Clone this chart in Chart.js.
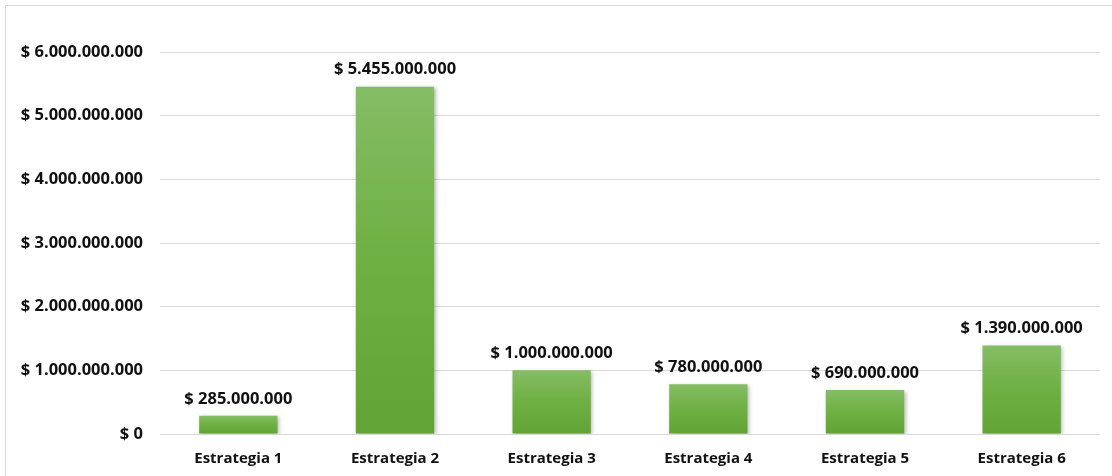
<!DOCTYPE html>
<html>
<head>
  <title>Estrategias</title>
  <script src="https://cdn.jsdelivr.net/npm/chart.js"></script>
  <style>
    body { margin: 0; background: #fff; overflow: hidden; }
    .frame { position: absolute; left: 5px; top: 5px; width: 1200px; height: 600px; border: 1px solid #d9d9d9; }
    #chart { position: absolute; left: 0; top: 0; }
  </style>
</head>
<body>
  <div class="frame"></div>
  <canvas id="chart" width="1112" height="476"></canvas>
  <script>
    const categories = ['Estrategia 1', 'Estrategia 2', 'Estrategia 3', 'Estrategia 4', 'Estrategia 5', 'Estrategia 6'];
    const costs = [285000000, 5455000000, 1000000000, 780000000, 690000000, 1390000000];

    const FONT = "'Open Sans', Lato, sans-serif";
    const SIZE = 16.5;
    const TEXT = '#111';

    function money(v) {
      return '$ ' + String(Math.round(v)).replace(/\B(?=(\d{3})+(?!\d))/g, '.');
    }

    // each bar gets its own light-to-dark gradient
    function barFill(ctx) {
      const chart = ctx.chart;
      const y = chart.scales.y;
      if (!y || !chart.chartArea || ctx.parsed === undefined) return '#70b047';
      const top = y.getPixelForValue(ctx.parsed.y);
      const bottom = y.getPixelForValue(0);
      if (!isFinite(top) || !isFinite(bottom) || top === bottom) return '#70b047';
      const g = chart.ctx.createLinearGradient(0, top, 0, bottom);
      g.addColorStop(0, '#85bd65');
      g.addColorStop(0.5, '#6eb042');
      g.addColorStop(1, '#62a335');
      return g;
    }

    const barShadow = {
      id: 'barShadow',
      beforeDatasetsDraw(chart) {
        const c = chart.ctx;
        c.save();
        c.shadowColor = 'rgba(0,0,0,0.28)';
        c.shadowBlur = 4;
        c.shadowOffsetX = 1.5;
        c.shadowOffsetY = 1.5;
      },
      afterDatasetsDraw(chart) {
        chart.ctx.restore();
      }
    };

    const valueLabels = {
      id: 'valueLabels',
      afterDatasetsDraw(chart) {
        const c = chart.ctx;
        const meta = chart.getDatasetMeta(0);
        c.save();
        c.font = 'bold ' + SIZE + 'px ' + FONT;
        c.fillStyle = TEXT;
        c.textAlign = 'center';
        c.textBaseline = 'middle';
        meta.data.forEach((bar, i) => {
          c.fillText(money(costs[i]), bar.x, bar.y - 17);
        });
        c.restore();
      }
    };

    new Chart(document.getElementById('chart'), {
      type: 'bar',
      data: {
        labels: categories,
        datasets: [{
          data: costs,
          backgroundColor: barFill,
          borderWidth: 0,
          barPercentage: 0.5,
          categoryPercentage: 1.0
        }]
      },
      options: {
        responsive: false,
        animation: false,
        layout: { padding: { top: 52, right: 12, left: 0, bottom: 0 } },
        plugins: {
          legend: { display: false },
          tooltip: { enabled: false }
        },
        scales: {
          x: {
            grid: { display: false, drawTicks: false },
            border: { display: false },
            ticks: { color: TEXT, padding: 16, font: { family: FONT, size: 15, weight: 'bold' } },
            afterFit(scale) { scale.height = 42; }
          },
          y: {
            min: 0,
            max: 6000000000,
            grid: { color: '#d9d9d9', lineWidth: 1, drawTicks: false },
            border: { display: false },
            ticks: {
              stepSize: 1000000000,
              color: TEXT,
              padding: 17,
              font: { family: FONT, size: SIZE, weight: 'bold' },
              callback: v => money(v)
            },
            afterFit(scale) { scale.width = 160; }
          }
        }
      },
      plugins: [barShadow, valueLabels]
    });
  </script>
</body>
</html>
